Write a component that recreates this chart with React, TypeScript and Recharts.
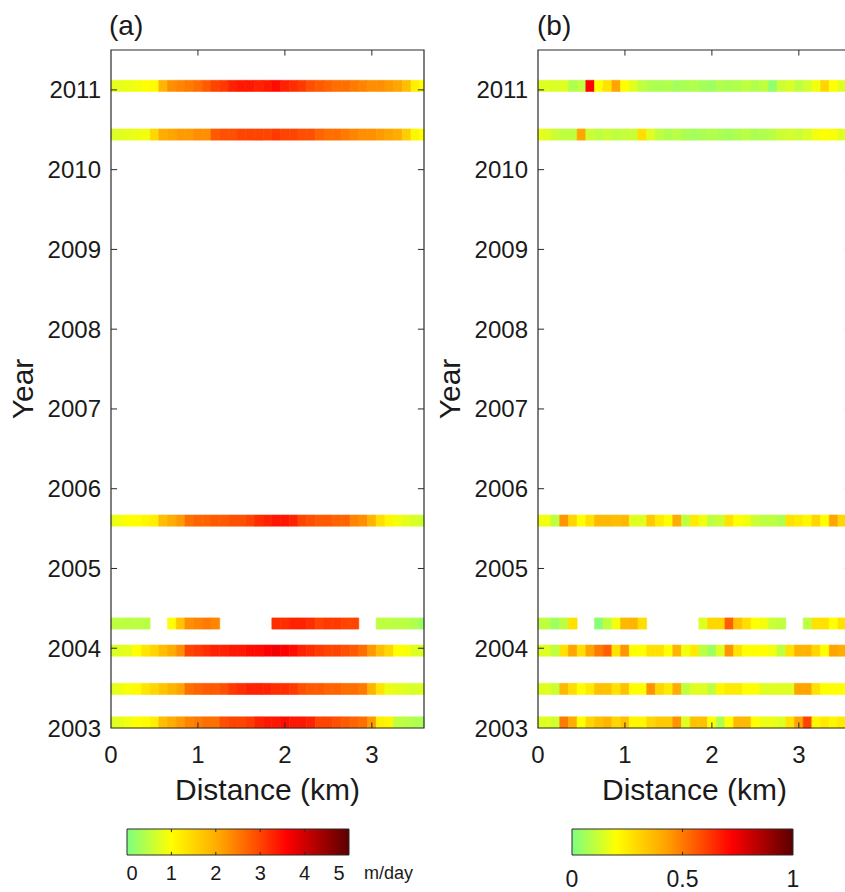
import React from 'react';
import { ComposedChart, XAxis, YAxis, ReferenceArea, ReferenceLine, Scatter } from 'recharts';

const FONT = '"Liberation Sans", Arial, Helvetica, sans-serif';
const INK = '#1a1a1a';
const FRAME = '#2a2a2a';

// ---------- data ----------
const DISTANCE_KM = [0, 0.1, 0.2, 0.3, 0.4, 0.5, 0.6, 0.7, 0.8, 0.9, 1.0, 1.1, 1.2, 1.3, 1.4, 1.5, 1.6, 1.7, 1.8, 1.9, 2.0, 2.1, 2.2, 2.3, 2.4, 2.5, 2.6, 2.7, 2.8, 2.9, 3.0, 3.1, 3.2, 3.3, 3.4, 3.5, 3.6];
const DISTANCE_TICKS = [0, 1, 2, 3];
const YEAR_TICKS = [2003, 2004, 2005, 2006, 2007, 2008, 2009, 2010, 2011];
const ROW_YEARS = [2011.05, 2010.44, 2005.6, 2004.31, 2003.97, 2003.49, 2003.07];

// panel (a): speed, m/day
const SPEED_2011_05 = [0.8, 0.8, 0.85, 0.9, 1.0, 1.05, 1.9, 2.3, 2.4, 2.5, 2.6, 2.8, 3.0, 3.1, 3.3, 3.4, 3.4, 3.3, 3.4, 3.5, 3.3, 3.2, 3.1, 2.9, 2.8, 2.7, 2.6, 2.6, 2.5, 2.4, 2.3, 2.3, 2.2, 2.1, 1.8, 1.2, 1.0];
const SPEED_2010_44 = [0.7, 0.75, 0.8, 0.85, 0.9, 1.5, 2.0, 2.1, 2.2, 2.2, 2.3, 2.3, 2.8, 2.9, 2.9, 3.0, 3.0, 3.0, 3.0, 3.1, 3.0, 3.0, 2.9, 2.9, 2.7, 2.6, 2.6, 2.5, 2.4, 2.3, 2.3, 2.2, 2.1, 2.0, 1.6, 1.1, 1.0];
const SPEED_2005_60 = [0.8, 0.9, 1.0, 1.0, 1.1, 1.2, 1.8, 2.0, 2.2, 2.6, 2.7, 2.7, 2.8, 2.8, 2.9, 2.9, 3.0, 3.2, 3.3, 3.4, 3.4, 3.3, 3.0, 2.9, 2.8, 2.8, 2.7, 2.7, 2.4, 2.3, 1.9, 1.4, 1.1, 0.9, 0.8, 0.7, 0.6];
const SPEED_2004_31 = [0.5, 0.5, 0.45, 0.5, 0.45, null, null, 1.0, 1.7, 2.3, 2.4, 2.5, 2.4, null, null, null, null, null, null, 3.2, 3.2, 3.3, 3.3, 3.2, 3.0, 3.1, 3.1, 3.0, 3.0, null, null, 0.5, 0.5, 0.45, 0.45, 0.4, 0.2];
const SPEED_2003_97 = [0.7, 0.75, 0.8, 1.0, 1.3, 1.5, 1.8, 2.0, 2.3, 3.0, 3.1, 3.2, 3.3, 3.3, 3.4, 3.4, 3.5, 3.5, 3.6, 3.7, 3.6, 3.5, 3.3, 3.2, 3.1, 3.0, 3.0, 2.9, 2.8, 2.6, 2.2, 1.8, 1.5, 1.0, 0.95, 0.75, 0.7];
const SPEED_2003_49 = [0.75, 0.85, 0.95, 1.05, 1.3, 1.5, 1.7, 1.9, 2.1, 2.6, 2.7, 2.8, 2.8, 2.9, 3.1, 3.2, 3.3, 3.3, 3.3, 3.2, 3.2, 3.1, 2.9, 2.8, 2.8, 2.7, 2.7, 2.6, 2.6, 2.5, 1.9, 1.3, 0.85, 0.8, 0.75, 0.7, 0.75];
const SPEED_2003_07 = [0.75, 0.8, 0.9, 1.0, 1.05, 1.2, 1.8, 2.0, 2.2, 2.4, 2.5, 2.6, 2.6, 2.9, 3.0, 3.0, 3.1, 3.3, 3.4, 3.4, 3.5, 3.4, 3.4, 3.3, 3.0, 3.0, 2.9, 2.8, 2.7, 2.6, 2.2, 1.2, 1.1, 0.5, 0.45, 0.4, 0.35];

// panel (b): normalised, 0..1
const FRAC_2011_05 = [0.15, 0.15, 0.14, 0.15, 0.08, 0.1, 0.72, 0.2, 0.27, 0.42, 0.2, 0.15, 0.1, 0.08, 0.07, 0.08, 0.06, 0.07, 0.08, 0.06, 0.05, 0.08, 0.07, 0.08, 0.1, 0.08, 0.1, 0.03, 0.12, 0.14, 0.1, 0.13, 0.18, 0.3, 0.2, 0.15, 0.12];
const FRAC_2010_44 = [0.17, 0.15, 0.12, 0.1, 0.1, 0.42, 0.12, 0.1, 0.12, 0.1, 0.11, 0.12, 0.28, 0.15, 0.1, 0.08, 0.09, 0.07, 0.06, 0.07, 0.08, 0.07, 0.06, 0.08, 0.09, 0.07, 0.08, 0.09, 0.12, 0.13, 0.12, 0.14, 0.18, 0.2, 0.19, 0.15, 0.12];
const FRAC_2005_60 = [0.18, 0.18, 0.1, 0.45, 0.3, 0.2, 0.27, 0.37, 0.37, 0.36, 0.37, 0.15, 0.15, 0.33, 0.25, 0.2, 0.4, 0.1, 0.25, 0.18, 0.1, 0.12, 0.27, 0.2, 0.18, 0.12, 0.1, 0.1, 0.08, 0.27, 0.25, 0.22, 0.3, 0.2, 0.42, 0.3, 0.2];
const FRAC_2004_31 = [0.1, 0.1, 0.05, 0.1, 0.27, null, null, 0.02, 0.1, 0.18, 0.37, 0.38, 0.28, null, null, null, null, null, null, 0.15, 0.3, 0.3, 0.55, 0.35, 0.28, 0.2, 0.18, 0.12, 0.1, null, null, 0.1, 0.27, 0.27, 0.2, 0.27, 0.2];
const FRAC_2003_97 = [0.15, 0.15, 0.1, 0.27, 0.42, 0.28, 0.42, 0.5, 0.55, 0.27, 0.45, 0.2, 0.2, 0.27, 0.27, 0.2, 0.38, 0.18, 0.25, 0.1, 0.05, 0.15, 0.45, 0.27, 0.2, 0.2, 0.2, 0.18, 0.1, 0.27, 0.38, 0.38, 0.3, 0.2, 0.42, 0.4, 0.3];
const FRAC_2003_49 = [0.15, 0.15, 0.12, 0.37, 0.28, 0.2, 0.25, 0.35, 0.35, 0.27, 0.35, 0.2, 0.2, 0.45, 0.3, 0.25, 0.4, 0.1, 0.15, 0.15, 0.1, 0.22, 0.25, 0.25, 0.2, 0.2, 0.15, 0.15, 0.15, 0.15, 0.42, 0.42, 0.27, 0.2, 0.2, 0.2, 0.18];
const FRAC_2003_07 = [0.15, 0.15, 0.13, 0.5, 0.4, 0.2, 0.3, 0.35, 0.38, 0.3, 0.35, 0.22, 0.22, 0.3, 0.33, 0.33, 0.45, 0.15, 0.35, 0.35, 0.2, 0.08, 0.2, 0.37, 0.37, 0.2, 0.17, 0.17, 0.15, 0.27, 0.42, 0.6, 0.22, 0.25, 0.22, 0.25, 0.2];

const PANEL_A_ROWS = [SPEED_2011_05, SPEED_2010_44, SPEED_2005_60, SPEED_2004_31, SPEED_2003_97, SPEED_2003_49, SPEED_2003_07];
const PANEL_B_ROWS = [FRAC_2011_05, FRAC_2010_44, FRAC_2005_60, FRAC_2004_31, FRAC_2003_97, FRAC_2003_49, FRAC_2003_07];

const CBAR_A_TICKS = [0, 1, 2, 3, 4, 5];
const CBAR_B_TICKS = [0, 0.5, 1];

// colormap
const CMAP_POS = [0, 0.2, 0.42, 0.6, 0.72, 1];
const CMAP_HEX = ['#7dff80', '#ffff00', '#ffa500', '#ff4400', '#ff0000', '#5a0000'];

// ---------- geometry / style ----------
const X_DOMAIN: [number, number] = [0, 3.6];
const Y_DOMAIN: [number, number] = [2003, 2011.5];
const HALF_CELL_KM = 0.05;
const HALF_ROW_YR = 0.07;
const TICK_LEN_YR = 0.07;
const TICK_LEN_KM = 0.07;

function hexToRgb(h: string) {
  const n = parseInt(h.slice(1), 16);
  return [(n >> 16) & 255, (n >> 8) & 255, n & 255];
}
function colorAt(t: number) {
  const v = Math.max(0, Math.min(1, t));
  let i = 0;
  while (i < CMAP_POS.length - 2 && v > CMAP_POS[i + 1]) i++;
  const f = (v - CMAP_POS[i]) / (CMAP_POS[i + 1] - CMAP_POS[i]);
  const a = hexToRgb(CMAP_HEX[i]);
  const b = hexToRgb(CMAP_HEX[i + 1]);
  const c = a.map((x, k) => Math.round(x + (b[k] - x) * f));
  return `rgb(${c[0]},${c[1]},${c[2]})`;
}

const tickStyle = { fontSize: 24, fill: INK, fontFamily: FONT };

function Panel({ rows, vmax, left }: { rows: (number | null)[][]; vmax: number; left: number }) {
  const points: { x: number; y: number }[] = [];
  const cells: React.ReactNode[] = [];
  rows.forEach((vals, ri) => {
    const year = ROW_YEARS[ri];
    vals.forEach((v, ci) => {
      if (v == null) return;
      const d = DISTANCE_KM[ci];
      const col = colorAt(v / vmax);
      points.push({ x: d, y: year });
      cells.push(
        <ReferenceArea
          key={`c-${ri}-${ci}`}
          x1={Math.max(X_DOMAIN[0], d - HALF_CELL_KM)}
          x2={Math.min(X_DOMAIN[1], d + HALF_CELL_KM)}
          y1={year - HALF_ROW_YR}
          y2={year + HALF_ROW_YR}
          fill={col}
          fillOpacity={1}
          stroke={col}
          strokeWidth={0.6}
          ifOverflow="visible"
        />
      );
    });
  });

  const ticks: React.ReactNode[] = [];
  DISTANCE_TICKS.forEach((t) => {
    if (t === X_DOMAIN[0]) return;
    ticks.push(
      <ReferenceLine key={`xb-${t}`} segment={[{ x: t, y: Y_DOMAIN[0] }, { x: t, y: Y_DOMAIN[0] + TICK_LEN_YR }]} stroke={FRAME} ifOverflow="visible" />,
      <ReferenceLine key={`xt-${t}`} segment={[{ x: t, y: Y_DOMAIN[1] }, { x: t, y: Y_DOMAIN[1] - TICK_LEN_YR }]} stroke={FRAME} ifOverflow="visible" />
    );
  });
  YEAR_TICKS.forEach((t) => {
    if (t === Y_DOMAIN[0]) return;
    ticks.push(
      <ReferenceLine key={`yl-${t}`} segment={[{ x: X_DOMAIN[0], y: t }, { x: X_DOMAIN[0] + TICK_LEN_KM, y: t }]} stroke={FRAME} ifOverflow="visible" />,
      <ReferenceLine key={`yr-${t}`} segment={[{ x: X_DOMAIN[1], y: t }, { x: X_DOMAIN[1] - TICK_LEN_KM, y: t }]} stroke={FRAME} ifOverflow="visible" />
    );
  });

  const yearLabel = (p: any) => {
    const vb = p.viewBox || { x: 11, y: 50, width: 100, height: 678 };
    const cx = vb.x + 22;
    const cy = vb.y + vb.height / 2;
    return (
      <text x={cx} y={cy} transform={`rotate(-90 ${cx} ${cy})`} textAnchor="middle" fontSize={30} fill={INK} fontFamily={FONT}>
        Year
      </text>
    );
  };

  return (
    <div style={{ position: 'absolute', left, top: 0 }}>
      <ComposedChart width={440} height={810} margin={{ top: 50, right: 16, bottom: 10, left: 11 }}>
        <XAxis
          type="number"
          dataKey="x"
          domain={X_DOMAIN}
          ticks={DISTANCE_TICKS}
          allowDataOverflow
          axisLine={false}
          tickLine={false}
          tickSize={0}
          tickMargin={18}
          height={72}
          tick={tickStyle}
          label={{ value: 'Distance (km)', position: 'insideBottom', offset: 0, fontSize: 30, fill: INK, fontFamily: FONT }}
        />
        <YAxis
          type="number"
          dataKey="y"
          domain={Y_DOMAIN}
          ticks={YEAR_TICKS}
          allowDataOverflow
          axisLine={false}
          tickLine={false}
          tickSize={0}
          tickMargin={10}
          width={100}
          tick={tickStyle}
          label={{ value: 'Year', content: yearLabel }}
        />
        <Scatter data={points} isAnimationActive={false} shape={() => <g />} />
        {cells}
        <ReferenceArea x1={X_DOMAIN[0]} x2={X_DOMAIN[1]} y1={Y_DOMAIN[0]} y2={Y_DOMAIN[1]} fill="none" stroke={FRAME} strokeWidth={1.2} ifOverflow="visible" />
        {ticks}
      </ComposedChart>
    </div>
  );
}

function CbarTickA(p: any) {
  const { x, y, payload } = p;
  const v = payload.value;
  const last = CBAR_A_TICKS[CBAR_A_TICKS.length - 1];
  const dx = v === CBAR_A_TICKS[0] ? 5 : v === last ? -10 : 0;
  return (
    <g>
      <text x={x + dx} y={y + 14} textAnchor="middle" fontSize={20} fill={INK} fontFamily={FONT}>
        {String(v)}
      </text>
      {v === last ? (
        <text x={x + 15} y={y + 13} textAnchor="start" fontSize={18} fill={INK} fontFamily={FONT}>
          m/day
        </text>
      ) : null}
    </g>
  );
}

function CbarTickB(p: any) {
  const { x, y, payload } = p;
  return (
    <text x={x} y={y + 16.5} textAnchor="middle" fontSize={23} fill={INK} fontFamily={FONT}>
      {String(payload.value)}
    </text>
  );
}

function ColorBar({ ticks, left, width, right, tickMargin, tick }: { ticks: number[]; left: number; width: number; right: number; tickMargin: number; tick: any }) {
  const lo = ticks[0];
  const hi = ticks[ticks.length - 1];
  const marks: React.ReactNode[] = [];
  ticks.slice(1, -1).forEach((t) => {
    marks.push(
      <ReferenceLine key={`b-${t}`} segment={[{ x: t, y: 0 }, { x: t, y: 0.12 }]} stroke={FRAME} ifOverflow="visible" />,
      <ReferenceLine key={`t-${t}`} segment={[{ x: t, y: 1 }, { x: t, y: 0.88 }]} stroke={FRAME} ifOverflow="visible" />
    );
  });
  return (
    <div style={{ position: 'absolute', left, top: 819 }}>
      <ComposedChart width={width} height={76} margin={{ top: 10, right, bottom: 0, left: 10 }}>
        <XAxis type="number" dataKey="x" domain={[lo, hi]} ticks={ticks} allowDataOverflow axisLine={false} tickLine={false} tickSize={0} tickMargin={tickMargin} height={40} tick={tick} interval={0} />
        <YAxis type="number" dataKey="y" domain={[0, 1]} hide />
        <Scatter data={ticks.map((t) => ({ x: t, y: 0.5 }))} isAnimationActive={false} shape={() => <g />} />
        <ReferenceArea x1={lo} x2={hi} y1={0} y2={1} fill="url(#cmapGrad)" fillOpacity={1} stroke={FRAME} strokeWidth={1} ifOverflow="visible" />
        {marks}
      </ComposedChart>
    </div>
  );
}

export default function App() {
  return (
    <div style={{ position: 'absolute', left: 0, top: 0, width: 845, height: 892, overflow: 'hidden', background: '#fff' }}>
      <svg width={0} height={0} style={{ position: 'absolute' }}>
        <defs>
          <linearGradient id="cmapGrad" x1="0" y1="0" x2="1" y2="0">
            {CMAP_POS.map((p, i) => (
              <stop key={i} offset={p} stopColor={CMAP_HEX[i]} />
            ))}
          </linearGradient>
        </defs>
      </svg>
      <Panel rows={PANEL_A_ROWS} vmax={5} left={0} />
      <Panel rows={PANEL_B_ROWS} vmax={1} left={427} />
      <ColorBar ticks={CBAR_A_TICKS} left={117} width={317} right={85} tickMargin={11} tick={<CbarTickA />} />
      <ColorBar ticks={CBAR_B_TICKS} left={562} width={271} right={40} tickMargin={15} tick={<CbarTickB />} />
      <svg width={845} height={60} style={{ position: 'absolute', left: 0, top: 0, pointerEvents: 'none' }}>
        <text x={109} y={35} fontSize={28} fill={INK} fontFamily={FONT}>(a)</text>
        <text x={537} y={35} fontSize={28} fill={INK} fontFamily={FONT}>(b)</text>
      </svg>
    </div>
  );
}
